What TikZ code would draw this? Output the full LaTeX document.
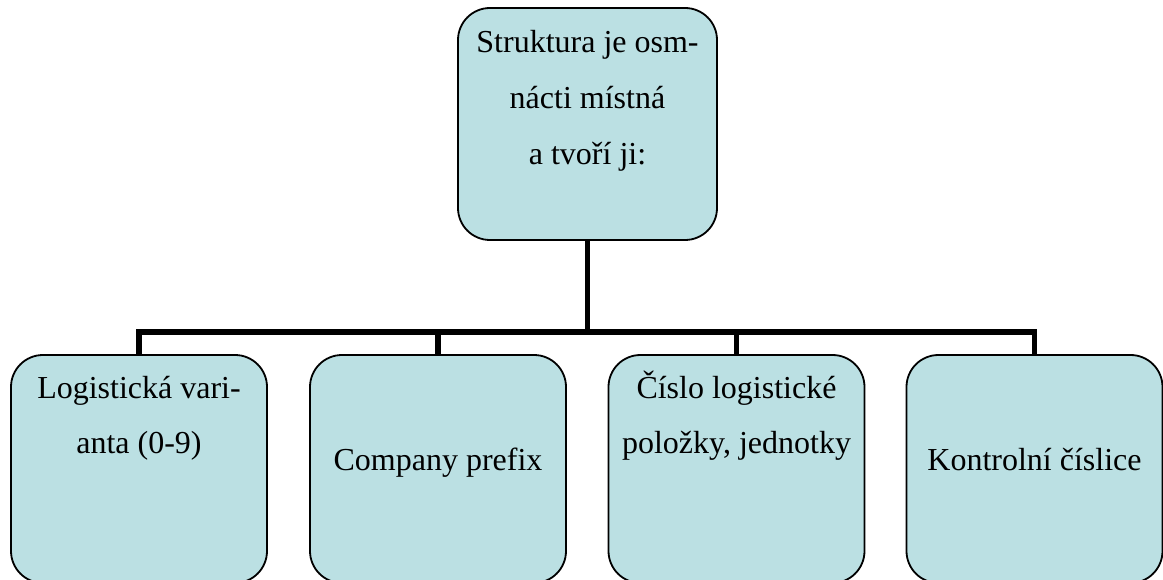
\documentclass[tikz,border=0pt]{standalone}
\usepackage{fontspec}
\setmainfont{Liberation Serif}
\definecolor{boxfill}{RGB}{187,224,227}
\tikzset{
  box/.style={draw=black, line width=1.8pt, fill=boxfill, rounded corners=32pt, minimum width=256pt, minimum height=228pt, inner sep=0pt},
  label/.style={font=\fontsize{32}{55}\selectfont, align=center, inner sep=0pt, anchor=base},
  conn/.style={draw=black, line width=5.5pt, line join=miter}
}
\begin{document}
\begin{tikzpicture}[x=1pt,y=-1pt]
\useasboundingbox (0,0) rectangle (1163,580);
\clip (0,0) rectangle (1163,580);
\node[box, minimum width=259pt, minimum height=232pt] (top) at (587.5,124) {};
\node[box] (b1) at (139,469) {};
\node[box] (b2) at (438,469) {};
\node[box] (b3) at (736.5,469) {};
\node[box] (b4) at (1034.5,469) {};
\coordinate (bar) at (587.5,332);
\draw[conn] (top.south) -- (bar);
\draw[conn] (b1.north) -- (b1.north |- bar) -- (b4.north |- bar) -- (b4.north);
\draw[conn] (b2.north) -- (b2.north |- bar);
\draw[conn] (b3.north) -- (b3.north |- bar);
\node[label] (t0a) at (587.5,53) {Struktura je osm-};
\node[label] (t0b) at (587.5,109) {nácti místná};
\node[label] (t0c) at (587.5,165) {a tvoří ji:};
\node[label] (t1a) at (139,398) {Logistická vari-};
\node[label] (t1b) at (139,453) {anta (0-9)};
\node[label] (t2) at (438,470) {Company prefix};
\node[label] (t3a) at (736.5,398) {Číslo logistické};
\node[label] (t3b) at (736.5,453) {položky, jednotky};
\node[label] (t4) at (1034.5,470) {Kontrolní číslice};
\end{tikzpicture}
\end{document}
